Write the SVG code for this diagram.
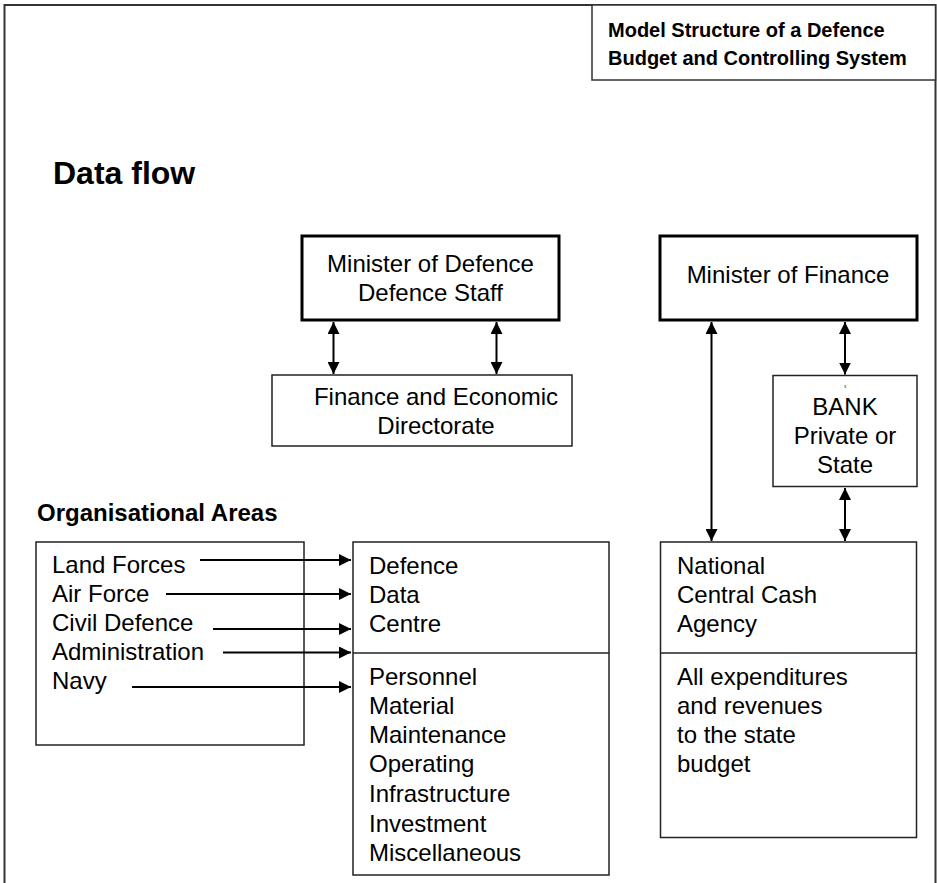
<svg xmlns="http://www.w3.org/2000/svg" width="937" height="883" viewBox="0 0 937 883">
<style>
text{font-family:"Liberation Sans",Arial,sans-serif;fill:#000}
.t{font-size:24px}
.b{font-weight:bold}
.box{fill:#fff;stroke:#222;stroke-width:1.5}
.thick{fill:#fff;stroke:#000;stroke-width:3}
.c{stroke:#000;stroke-width:2;fill:none}
</style>
<defs>
<marker id="ah" viewBox="0 0 12 12" markerWidth="12" markerHeight="12" refX="12" refY="6" orient="auto-start-reverse" markerUnits="userSpaceOnUse">
<path d="M0,0 L12,6 L0,12 z" fill="#000"/>
</marker>
</defs>
<rect x="0" y="0" width="937" height="883" fill="#fff"/>
<path d="M4.5,883 V5 H935.5 V883" fill="none" stroke="#333" stroke-width="2"/>
<g id="title">
<rect x="592" y="5" width="343.5" height="75" fill="#fff" stroke="#333" stroke-width="1.5"/>
<text x="608" y="37" class="b" font-size="20">Model Structure of a Defence</text>
<text x="608" y="65" class="b" font-size="20">Budget and Controlling System</text>
</g>
<text x="53" y="184" class="b" font-size="32">Data flow</text>
<g id="minister-defence">
<rect x="302" y="236" width="257" height="84" class="thick"/>
<text x="430.5" y="272" class="t" text-anchor="middle">Minister of Defence</text>
<text x="430.5" y="301" class="t" text-anchor="middle">Defence Staff</text>
</g>
<g id="minister-finance">
<rect x="660" y="236" width="257" height="84" class="thick"/>
<text x="788" y="283" class="t" text-anchor="middle">Minister of Finance</text>
</g>
<g id="finance-directorate">
<rect x="272" y="375" width="300" height="71" class="box"/>
<text x="436" y="405" class="t" text-anchor="middle">Finance and Economic</text>
<text x="436" y="434" class="t" text-anchor="middle">Directorate</text>
</g>
<g id="bank">
<rect x="773" y="375.5" width="144" height="111" class="box"/>
<text x="845" y="388" font-size="4" text-anchor="middle">3</text>
<text x="845" y="415" class="t" text-anchor="middle">BANK</text>
<text x="845" y="444" class="t" text-anchor="middle">Private or</text>
<text x="845" y="473" class="t" text-anchor="middle">State</text>
</g>
<text x="37" y="521" class="b" font-size="24">Organisational Areas</text>
<g id="org-areas">
<rect x="36" y="542" width="268" height="203" class="box"/>
<text x="52" y="573" class="t">Land Forces</text>
<text x="52" y="602" class="t">Air Force</text>
<text x="52" y="631" class="t">Civil Defence</text>
<text x="52" y="660" class="t">Administration</text>
<text x="52" y="689" class="t">Navy</text>
</g>
<g id="defence-data-centre">
<rect x="353" y="542" width="256" height="333" class="box"/>
<line x1="353" y1="653" x2="609" y2="653" stroke="#222" stroke-width="1.5"/>
<text x="369" y="574" class="t">Defence</text>
<text x="369" y="603" class="t">Data</text>
<text x="369" y="632" class="t">Centre</text>
<text x="369" y="685" class="t">Personnel</text>
<text x="369" y="714" class="t">Material</text>
<text x="369" y="743" class="t">Maintenance</text>
<text x="369" y="772" class="t">Operating</text>
<text x="369" y="802" class="t">Infrastructure</text>
<text x="369" y="832" class="t">Investment</text>
<text x="369" y="861" class="t">Miscellaneous</text>
</g>
<g id="cash-agency">
<rect x="660.5" y="542" width="256" height="295.5" class="box"/>
<line x1="660.5" y1="653" x2="916.5" y2="653" stroke="#222" stroke-width="1.5"/>
<text x="677" y="574" class="t">National</text>
<text x="677" y="603" class="t">Central Cash</text>
<text x="677" y="632" class="t">Agency</text>
<text x="677" y="685" class="t">All expenditures</text>
<text x="677" y="714" class="t">and revenues</text>
<text x="677" y="743" class="t">to the state</text>
<text x="677" y="772" class="t">budget</text>
</g>
<g id="connectors">
<line x1="333.5" y1="322" x2="333.5" y2="374" class="c" marker-start="url(#ah)" marker-end="url(#ah)"/>
<line x1="496.5" y1="322" x2="496.5" y2="374" class="c" marker-start="url(#ah)" marker-end="url(#ah)"/>
<line x1="711.5" y1="322" x2="711.5" y2="541" class="c" marker-start="url(#ah)" marker-end="url(#ah)"/>
<line x1="845" y1="322" x2="845" y2="374.5" class="c" marker-start="url(#ah)" marker-end="url(#ah)"/>
<line x1="845" y1="488" x2="845" y2="541" class="c" marker-start="url(#ah)" marker-end="url(#ah)"/>
<line x1="200" y1="560" x2="351" y2="560" class="c" marker-end="url(#ah)"/>
<line x1="166" y1="594" x2="351" y2="594" class="c" marker-end="url(#ah)"/>
<line x1="213" y1="629" x2="351" y2="629" class="c" marker-end="url(#ah)"/>
<line x1="223" y1="652.5" x2="351" y2="652.5" class="c" marker-end="url(#ah)"/>
<line x1="132" y1="687" x2="351" y2="687" class="c" marker-end="url(#ah)"/>
</g>
</svg>
